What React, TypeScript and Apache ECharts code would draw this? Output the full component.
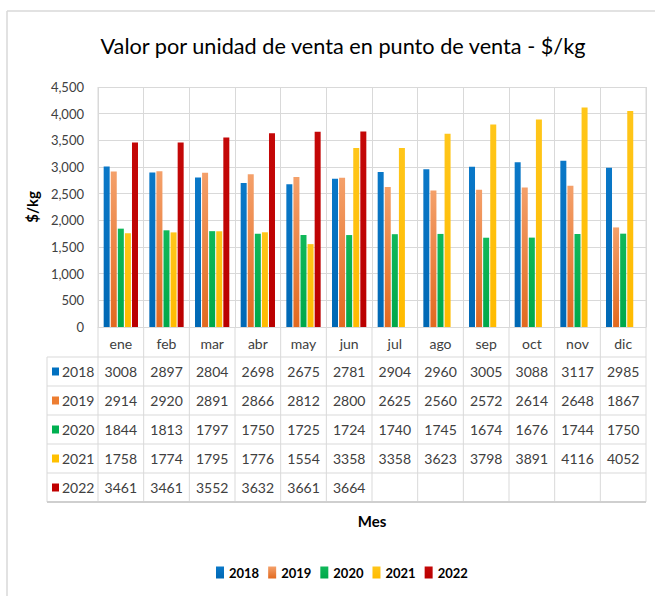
import React, { useEffect, useRef } from "react";
import * as echarts from "echarts";

const months = ["ene", "feb", "mar", "abr", "may", "jun", "jul", "ago", "sep", "oct", "nov", "dic"];
const years = ["2018", "2019", "2020", "2021", "2022"];
const v2018 = [3008, 2897, 2804, 2698, 2675, 2781, 2904, 2960, 3005, 3088, 3117, 2985];
const v2019 = [2914, 2920, 2891, 2866, 2812, 2800, 2625, 2560, 2572, 2614, 2648, 1867];
const v2020 = [1844, 1813, 1797, 1750, 1725, 1724, 1740, 1745, 1674, 1676, 1744, 1750];
const v2021 = [1758, 1774, 1795, 1776, 1554, 3358, 3358, 3623, 3798, 3891, 4116, 4052];
const v2022: (number | null)[] = [3461, 3461, 3552, 3632, 3661, 3664, null, null, null, null, null, null];
const seriesValues = [v2018, v2019, v2020, v2021, v2022];
const colors = ["#0070C0", "#ED7D31", "#00B050", "#FFC000", "#C00000"];
const gradTop = ["#0a78c8", "#F4A06A", "#10B85A", "#FFC61A", "#C40808"];
const gradBottom = ["#0068b4", "#E2691F", "#00A84A", "#FFBB00", "#BA0000"];

const FONT = "Lato";
const GRID = "#d9d9d9";
const TXT = "#404040";

export default function App() {
  const ref = useRef<HTMLDivElement>(null);
  useEffect(() => {
    document.body.style.margin = "0";
    const chart = echarts.init(ref.current!, null, { renderer: "svg" });
    chart.setOption({
      animation: false,
      backgroundColor: "#fff",
      textStyle: { fontFamily: FONT },
      title: {
        text: "Valor por unidad de venta en punto de venta - $/kg",
        left: 338,
        textAlign: "center",
        top: 30,
        textStyle: { fontFamily: FONT, fontSize: 21.7, fontWeight: "normal", color: "#000" },
      },
      legend: {
        bottom: 12,
        left: 211,
        itemWidth: 8,
        itemHeight: 12,
        itemGap: 9,
        icon: "rect",
        textStyle: { fontFamily: FONT, fontSize: 13, fontWeight: "bold", color: "#000" },
        data: years,
      },
      grid: { left: 98, right: 9, top: 87, bottom: 269, outerBoundsMode: "none", containLabel: false },
      xAxis: {
        type: "category",
        data: months,
        name: "Mes",
        nameLocation: "middle",
        nameGap: 186,
        nameTextStyle: { fontFamily: FONT, fontSize: 15, fontWeight: "bold", color: "#000" },
        axisLine: { show: true, lineStyle: { color: GRID } },
        axisTick: { show: false },
        axisLabel: { fontFamily: FONT, fontSize: 14, color: TXT, margin: 9, interval: 0 },
        splitLine: { show: true, interval: 0, lineStyle: { color: GRID } },
      },
      yAxis: {
        type: "value",
        min: 0,
        max: 4500,
        interval: 500,
        name: "$/kg",
        nameLocation: "middle",
        nameGap: 52,
        nameTextStyle: { fontFamily: FONT, fontSize: 15, fontWeight: "bold", color: "#000" },
        axisLine: { show: false },
        axisTick: { show: false },
        axisLabel: {
          fontFamily: FONT,
          fontSize: 13,
          color: TXT,
          margin: 14,
          formatter: (v: number) => v.toLocaleString("en-US"),
        },
        splitLine: { lineStyle: { color: GRID } },
      },
      series: years.map((y, k) => ({
        name: y,
        type: "bar",
        data: seriesValues[k],
        barWidth: 6,
        barGap: "18%",
        barCategoryGap: "24%",
        itemStyle: {
          color: new echarts.graphic.LinearGradient(0, 0, 0, 1, [
            { offset: 0, color: gradTop[k] },
            { offset: 1, color: gradBottom[k] },
          ]),
        },
      })),
      color: colors,
    });

    const xs = months.map((_, i) => chart.convertToPixel({ xAxisIndex: 0 }, i) as number);
    const band = xs[1] - xs[0];
    const zeroY = chart.convertToPixel({ yAxisIndex: 0 }, 0) as number;
    const topY = chart.convertToPixel({ yAxisIndex: 0 }, 4500) as number;
    const catRowH = 30;
    const rowH = 29;
    const tableTop = zeroY + catRowH;
    const tableBottom = tableTop + rowH * years.length;
    const tableLeft = 47;
    const plotLeft = xs[0] - band / 2;
    const plotRight = xs[xs.length - 1] + band / 2;

    const elems: any[] = [];
    elems.push({ type: "line", shape: { x1: 7, y1: 11, x2: 660, y2: 11 }, style: { stroke: "#d9d9d9", lineWidth: 1.5 } });
    elems.push({ type: "line", shape: { x1: 7, y1: 11, x2: 7, y2: 600 }, style: { stroke: "#d9d9d9", lineWidth: 1.5 } });
    for (let i = 0; i <= months.length; i++) {
      const x = plotLeft + i * band;
      elems.push({ type: "line", shape: { x1: x, y1: i === 0 || i === months.length ? topY : zeroY, x2: x, y2: tableBottom }, style: { stroke: GRID, lineWidth: 1 } });
    }
    elems.push({ type: "line", shape: { x1: tableLeft, y1: tableTop, x2: tableLeft, y2: tableBottom }, style: { stroke: GRID, lineWidth: 1 } });
    for (let r = 0; r <= years.length; r++) {
      const y = tableTop + r * rowH;
      elems.push({ type: "line", shape: { x1: tableLeft, y1: y, x2: plotRight, y2: y }, style: { stroke: r === years.length ? "#cfcfcf" : GRID, lineWidth: r === years.length ? 2 : 1 } });
    }
    years.forEach((yr, r) => {
      const cy = tableTop + r * rowH + rowH / 2;
      elems.push({ type: "rect", shape: { x: 52, y: cy - 4, width: 7, height: 8 }, style: { fill: colors[r] } });
      elems.push({
        type: "text",
        x: 62,
        y: cy,
        style: { text: yr, fill: TXT, fontFamily: FONT, fontSize: 14, textAlign: "left", textVerticalAlign: "middle", align: "left", verticalAlign: "middle" },
      });
      seriesValues[r].forEach((v, i) => {
        if (v == null) return;
        elems.push({
          type: "text",
          x: xs[i],
          y: cy,
          style: { text: String(v), fill: TXT, fontFamily: FONT, fontSize: 14, textAlign: "center", textVerticalAlign: "middle", align: "center", verticalAlign: "middle" },
        });
      });
    });
    chart.setOption({ graphic: elems });

    return () => chart.dispose();
  }, []);
  return <div ref={ref} style={{ position: "absolute", left: 0, top: 0, width: 655, height: 596 }} />;
}
